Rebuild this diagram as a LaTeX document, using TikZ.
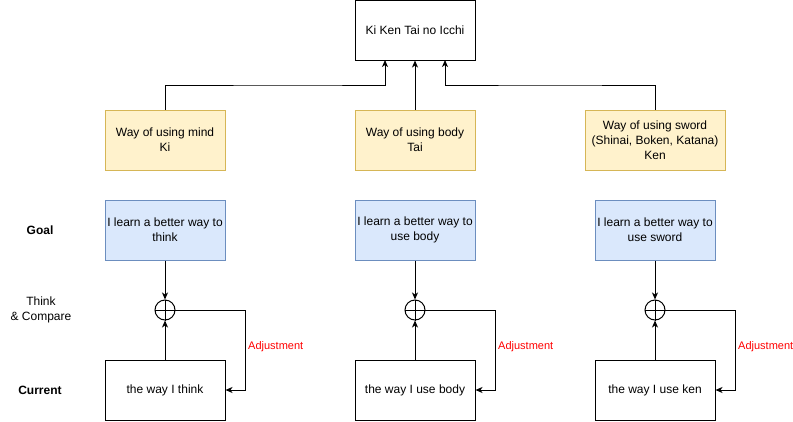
\documentclass[tikz,border=0pt]{standalone}
\usepackage{fontspec}
\setmainfont{Liberation Sans}
\usetikzlibrary{arrows.meta}
\definecolor{yfill}{HTML}{FFF2CC}
\definecolor{ydraw}{HTML}{D6B656}
\definecolor{bfill}{HTML}{DAE8FC}
\definecolor{bdraw}{HTML}{6C8EBF}
\tikzset{
  box/.style={draw=black, line width=1pt, minimum width=120pt, minimum height=60pt, inner sep=0pt, align=center, font=\fontsize{12}{15}\selectfont},
  ybox/.style={box, draw=ydraw, fill=yfill},
  bbox/.style={box, draw=bdraw, fill=bfill},
  sumnode/.style={draw=black, line width=1pt, circle, minimum size=20pt, inner sep=0pt},
  conn/.style={line width=1pt, -{Stealth[length=7pt,width=6pt,inset=2pt]}},
  side/.style={font=\fontsize{12}{15}\selectfont, align=center},
  adj/.style={font=\fontsize{11}{13}\selectfont, text=red, anchor=west, inner sep=0pt},
}
\begin{document}
\begin{tikzpicture}[x=1pt,y=-1pt]
\useasboundingbox (0,0) rectangle (793,421);
% top
\node[box] (top) at (415,30) {Ki Ken Tai no Icchi};
% yellow
\node[ybox] (y1) at (165,140) {Way of using mind\\Ki};
\node[ybox] (y2) at (415,140) {Way of using body\\Tai};
\node[ybox, minimum width=140pt] (y3) at (655,140) {Way of using sword\\(Shinai, Boken, Katana)\\Ken};
% blue goals
\node[bbox] (g1) at (165,230) {I learn a better way to\\think};
\node[bbox] (g2) at (415,230) {I learn a better way to\\use body};
\node[bbox] (g3) at (655,230) {I learn a better way to\\use sword};
% sum circles
\node[sumnode] (s1) at (165,310) {};
\node[sumnode] (s2) at (415,310) {};
\node[sumnode] (s3) at (655,310) {};
\foreach \s in {s1,s2,s3}{
  \draw[line width=1pt] (\s.north) -- (\s.south) (\s.west) -- (\s.east);
}
% current
\node[box] (c1) at (165,390) {the way I think};
\node[box] (c2) at (415,390) {the way I use body};
\node[box] (c3) at (655,390) {the way I use ken};
% side labels
\node[side, font=\fontsize{12}{15}\selectfont\bfseries] (lgoal) at (40,230) {Goal};
\node[side] (lthink) at (41,310) {Think\\\& Compare};
\node[side, font=\fontsize{12}{15}\selectfont\bfseries] (lcur) at (40,390) {Current};
% coordinates for top connectors
\coordinate (t1) at (385,60);
\coordinate (t3) at (445,60);
\draw[conn] (y1.north) |- (300,85) -| (t1);
\draw[conn] (y2.north) -- (top.south);
\draw[conn] (y3.north) |- (550,85) -| (t3);
% goal to sum, current to sum
\foreach \i in {1,2,3}{
  \draw[conn] (g\i.south) -- (s\i.north);
  \draw[conn] (c\i.north) -- (s\i.south);
}
% feedback
\draw[conn] (s1.east) -- (245,310) |- (c1.east);
\draw[conn] (s2.east) -- (495,310) |- (c2.east);
\draw[conn] (s3.east) -- (735,310) |- (c3.east);
\node[adj] (a1) at (248,347) {Adjustment};
\node[adj] (a2) at (498,347) {Adjustment};
\node[adj] (a3) at (738,347) {Adjustment};
\end{tikzpicture}
\end{document}
